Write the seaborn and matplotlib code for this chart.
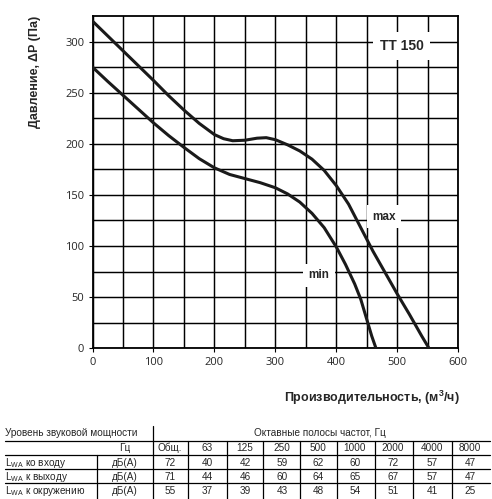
import numpy as np
import pandas as pd
import matplotlib
matplotlib.use("Agg")
import matplotlib.pyplot as plt
from matplotlib.lines import Line2D
import seaborn as sns

# ---- curve data ----
max_flow = [0, 25, 50, 75, 100, 125, 150, 175, 200, 215, 230, 250, 270, 285, 300,
            320, 340, 360, 380, 400, 420, 440, 460, 480, 500, 520, 540, 552]
max_pressure = [320, 305.5, 291, 276.5, 262, 247, 233, 220, 209, 205, 203, 203.5, 205.5, 206, 204,
                199, 193, 185, 174, 159, 141, 118, 95, 74, 53, 33, 12, 0]
min_flow = [0, 25, 50, 75, 100, 125, 150, 175, 200, 225, 250, 275, 300, 320, 340,
            360, 380, 400, 415, 430, 440, 450, 458, 465]
min_pressure = [275, 261, 247.5, 234, 220.5, 208, 196.5, 185.5, 176.5, 170, 166, 162, 157, 151, 143,
                132, 118, 99, 82, 63, 48, 28, 12, 0]

# ---- sound table data ----
table_title = "Уровень звуковой мощности"
table_band_title = "Октавные полосы частот, Гц"
freq_unit = "Гц"
bands = ["Общ.", "63", "125", "250", "500", "1000", "2000", "4000", "8000"]
row_labels = ["ко входу", "к выходу", "к окружению"]
row_unit = "дБ(А)"
row_inlet = [72, 40, 42, 59, 62, 60, 72, 57, 47]
row_outlet = [71, 44, 46, 60, 64, 65, 67, 57, 47]
row_around = [55, 37, 39, 43, 48, 54, 51, 41, 25]

df = pd.concat([
    pd.DataFrame({"flow": max_flow, "pressure": max_pressure, "mode": "max"}),
    pd.DataFrame({"flow": min_flow, "pressure": min_pressure, "mode": "min"}),
])

sns.set_style("white")
plt.rcParams["font.family"] = ["Open Sans", "DejaVu Sans"]
bold_font = ["Liberation Sans", "DejaVu Sans"]

W, H = 492, 499
fig = plt.figure(figsize=(W / 100, H / 100), dpi=100)
ax = fig.add_axes([92.5 / W, 1 - 348.3 / H, (458.3 - 92.5) / W, (348.3 - 16) / H])

sns.lineplot(data=df, x="flow", y="pressure", hue="mode", palette=["#1a1a1a", "#1a1a1a"],
             sort=False, estimator=None, linewidth=2.2, legend=False, ax=ax, zorder=5)

ax.set_xlim(0, 600)
ax.set_ylim(0, 325)
ax.set_xticks(np.arange(0, 601, 100))
ax.set_xticks(np.arange(50, 600, 100), minor=True)
ax.set_yticks(np.arange(0, 301, 50))
ax.set_yticks(np.arange(25, 325, 50), minor=True)
ax.grid(True, which="both", color="black", linewidth=1.05)
ax.tick_params(axis="both", which="major", length=3, width=0.8, color="black",
               labelsize=8, pad=3, direction="out", left=True, bottom=True)
ax.tick_params(axis="both", which="minor", length=0)
for s in ax.spines.values():
    s.set_color("black")
    s.set_linewidth(1.3)
ax.set_xlabel("")
ax.set_ylabel("")

box = dict(facecolor="white", edgecolor="none", pad=4)
ax.text(507, 296, "TT 150", fontsize=10, fontweight="bold", ha="center", va="center",
        family=bold_font, bbox=dict(facecolor="white", edgecolor="none", pad=5), zorder=6)
ax.text(478, 128.6, "max", fontsize=8.5, fontweight="bold", ha="center", va="center",
        family=bold_font, bbox=box, zorder=6)
ax.text(371, 71.6, "min", fontsize=8.5, fontweight="bold", ha="center", va="center",
        family=bold_font, bbox=box, zorder=6)

fig.text(35 / W, 1 - 72 / H, "Давление, ΔP (Па)", rotation=90, fontsize=9,
         fontweight="bold", ha="center", va="center", family=bold_font)
fig.text(372 / W, 1 - 397.5 / H, "Производительность, (м$^\\mathregular{3}$/ч)", fontsize=9,
         fontweight="bold", ha="center", va="center", family=bold_font)

# ---- table ----
tab_font = ["Liberation Sans", "DejaVu Sans"]
tfs = 7.2


def ty(y):
    return 1 - y / H


def tx(x):
    return x / W


def hline(y, x0, x1):
    fig.add_artist(Line2D([tx(x0), tx(x1)], [ty(y), ty(y)], color="black", linewidth=0.9))


def vline(x, y0, y1):
    fig.add_artist(Line2D([tx(x), tx(x)], [ty(y0), ty(y1)], color="black", linewidth=0.9))


for yy in [440.7, 455, 469.3, 483.3]:
    hline(yy, 5, 490)
vline(152.5, 426, 499)
vline(97, 455, 499)
seps = [188, 227, 263, 300, 337, 375, 413, 452]
for xx in seps:
    vline(xx, 441, 499)

col_centers = [170, 207, 245, 282, 318, 355, 393, 432, 470]
fig.text(tx(5), ty(433.5), table_title, fontsize=tfs, family=tab_font, ha="left", va="center")
fig.text(tx(320), ty(433.5), table_band_title, fontsize=tfs, family=tab_font, ha="center", va="center")
fig.text(tx(130), ty(448), freq_unit, fontsize=tfs, family=tab_font, ha="right", va="center")
for cx, b in zip(col_centers, bands):
    fig.text(tx(cx), ty(448), b, fontsize=tfs, family=tab_font, ha="center", va="center")

rows = [row_inlet, row_outlet, row_around]
row_y = [462.5, 476.5, 491]
for ry, lab, vals in zip(row_y, row_labels, rows):
    fig.text(tx(5), ty(ry), r"L$_{\mathregular{WA}}$ " + lab, fontsize=tfs, family=tab_font,
             ha="left", va="center")
    fig.text(tx(125), ty(ry), row_unit, fontsize=tfs, family=tab_font, ha="center", va="center")
    for cx, v in zip(col_centers, vals):
        fig.text(tx(cx), ty(ry), str(v), fontsize=tfs, family=tab_font, ha="center", va="center")

fig.savefig("out.png", dpi=100)
